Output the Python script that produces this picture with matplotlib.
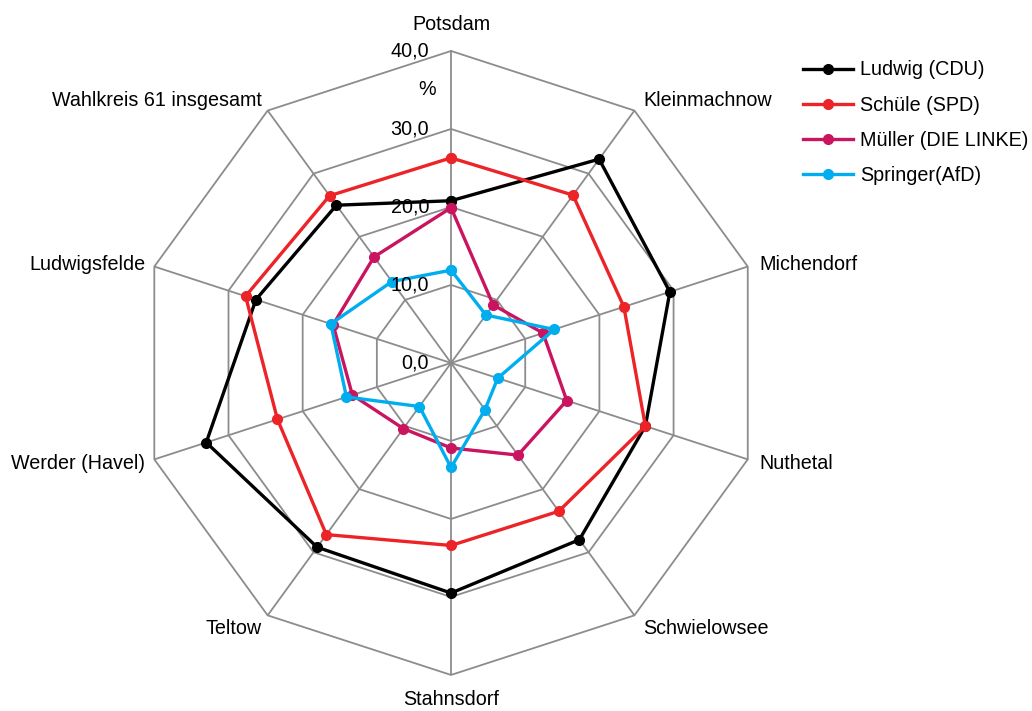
import numpy as np
import matplotlib.pyplot as plt

plt.rcParams['font.family'] = ['Liberation Sans', 'DejaVu Sans']

categories = ["Potsdam", "Kleinmachnow", "Michendorf", "Nuthetal", "Schwielowsee",
              "Stahnsdorf", "Teltow", "Werder (Havel)", "Ludwigsfelde",
              "Wahlkreis 61 insgesamt"]
ludwig_cdu = [20.8, 32.3, 29.5, 26.2, 28.0, 29.5, 29.2, 33.0, 26.3, 25.0]
schuele_spd = [26.3, 26.6, 23.3, 26.2, 23.5, 23.4, 27.2, 23.4, 27.7, 26.5]
mueller_linke = [19.9, 9.2, 12.4, 15.6, 14.6, 10.9, 10.4, 13.3, 15.9, 16.8]
springer_afd = [11.9, 7.6, 13.9, 6.3, 7.4, 13.4, 6.9, 14.1, 16.2, 12.9]
series_names = ["Ludwig (CDU)", "Schüle (SPD)", "Müller (DIE LINKE)", "Springer(AfD)"]
rings = [10, 20, 30, 40]
ring_labels = ["0,0", "10,0", "20,0", "30,0", "40,0"]

colors = ["#000000", "#EC2327", "#CB1460", "#00AEEF"]
grid_col = "#8c8c8c"
fs = 14.2

n = len(categories)
angles = np.arange(n) * 2 * np.pi / n
closed = np.append(angles, angles[0])

fig = plt.figure(figsize=(10.32, 7.11), dpi=100)
ax = fig.add_axes([0.1347, 0.0507, 0.6047, 0.8776], projection='polar')
ax.set_theta_zero_location('N')
ax.set_theta_direction(-1)
ax.set_ylim(0, 40)
ax.spines['polar'].set_visible(False)
ax.set_xticks(angles)
ax.set_xticklabels([])
ax.set_yticks([])
ax.xaxis.grid(True, color=grid_col, linewidth=1.3)
ax.yaxis.grid(False)
ax.patch.set_alpha(0)

# polygon rings
for r in rings:
    ax.plot(closed, [r] * (n + 1), color=grid_col, linewidth=1.3, clip_on=False, zorder=1)

# ring value labels
for r, lab in zip([0] + rings, ring_labels):
    ax.annotate(lab, xy=(0, r), xytext=(-22, 0), textcoords='offset pixels',
                ha='right', va='center', fontsize=fs, annotation_clip=False, zorder=6)
ax.annotate("%", xy=(0, 35), xytext=(-24, 0), textcoords='offset pixels',
            ha='center', va='center', fontsize=fs, annotation_clip=False, zorder=6)

# category labels
offsets = [(0, 26, 'center'), (9, 10, 'left'), (12, 2, 'left'), (12, -4, 'left'),
           (9, -13, 'left'), (0, -25, 'center'), (-6, -13, 'right'),
           (-9, -4, 'right'), (-9, 2, 'right'), (-6, 10, 'right')]
for a, cat, (dx, dy, ha) in zip(angles, categories, offsets):
    ax.annotate(cat, xy=(a, 40), xytext=(dx, dy), textcoords='offset pixels',
                ha=ha, va='center', fontsize=fs, annotation_clip=False)

data = [ludwig_cdu, schuele_spd, mueller_linke, springer_afd]
for vals, name, c in zip(data, series_names, colors):
    v = np.append(vals, vals[0])
    ax.plot(closed, v, color=c, linewidth=2.4, marker='o', markersize=7,
            label=name, clip_on=False, zorder=3)

fig.legend(loc='upper left', bbox_to_anchor=(0.778, 0.915), frameon=False,
           fontsize=fs, handlelength=2.55, handletextpad=0.35, labelspacing=0.82,
           borderpad=0, borderaxespad=0)

fig.savefig("out.png", dpi=100)
